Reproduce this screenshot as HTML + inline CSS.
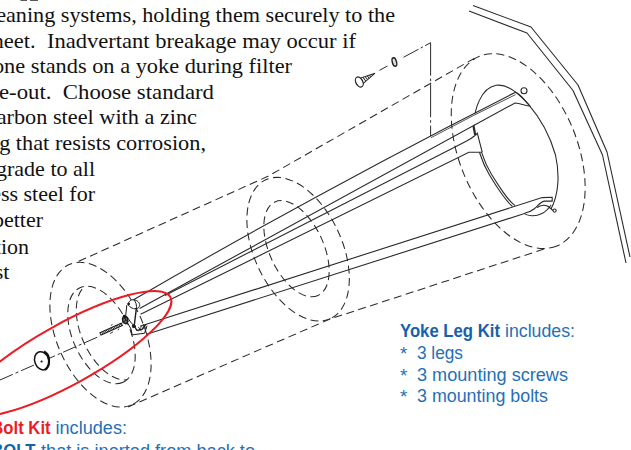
<!DOCTYPE html>
<html><head><meta charset="utf-8">
<style>
html,body{margin:0;padding:0;background:#fff;}
body{width:631px;height:450px;overflow:hidden;}
svg{display:block;}
.serif{font-family:"Liberation Serif",serif;font-size:22px;fill:#111;}
.sans{font-family:"Liberation Sans",sans-serif;font-size:18.8px;fill:#2470b6;}
.b{font-weight:bold;fill:#1561ab;}
.red{font-weight:bold;fill:#ec1c24;}
.ln{fill:none;stroke:#2a2a2a;stroke-width:1.1;}
.dash{fill:none;stroke:#2a2a2a;stroke-width:1.05;stroke-dasharray:8 4.5;}
.cl{fill:none;stroke:#2a2a2a;stroke-width:1;stroke-dasharray:14 3 3 3;}
</style></head><body>
<svg width="631" height="450" viewBox="0 0 631 450">
<rect width="631" height="450" fill="#fff"/>
<path d="M20.5 0 h6.5 v0.7 h-6.5 Z M30 0 h8 v0.7 h-8 Z" fill="#222"/>
<!-- serif text -->
<g class="serif" text-anchor="end" style="white-space:pre">
<text x="395" y="22" textLength="414.9" lengthAdjust="spacingAndGlyphs">cleaning systems, holding them securely to the</text>
<text x="356" y="47.6" textLength="372.2" lengthAdjust="spacingAndGlyphs">sheet.&#160; Inadvertant breakage may occur if</text>
<text x="292" y="73.2" textLength="299.1" lengthAdjust="spacingAndGlyphs">one stands on a yoke during filter</text>
<text x="214" y="98.8" textLength="215" lengthAdjust="spacingAndGlyphs">e-out.&#160; Choose standard</text>
<text x="197" y="124.4" textLength="210.2" lengthAdjust="spacingAndGlyphs">carbon steel with a zinc</text>
<text x="206" y="150" textLength="218" lengthAdjust="spacingAndGlyphs">ng that resists corrosion,</text>
<text x="95" y="175.6">upgrade to all</text>
<text x="95" y="201.2">less steel for</text>
<text x="43" y="226.8">better</text>
<text x="29" y="253.5">ction</text>
<text x="9.5" y="278.6">ust</text>
</g>
<!-- sans text -->
<g class="sans">
<text x="400" y="336.7" class="b" textLength="100" lengthAdjust="spacingAndGlyphs">Yoke Leg Kit</text>
<text x="505" y="336.7" textLength="70" lengthAdjust="spacingAndGlyphs">includes:</text>
<text x="400" y="360">*</text><text x="417" y="359" textLength="46" lengthAdjust="spacingAndGlyphs">3 legs</text>
<text x="400" y="382">*</text><text x="417" y="381" textLength="151" lengthAdjust="spacingAndGlyphs">3 mounting screws</text>
<text x="400" y="403.3">*</text><text x="417" y="402.3" textLength="131" lengthAdjust="spacingAndGlyphs">3 mounting bolts</text>
<text x="-8.7" y="434.4" class="red" textLength="59.3" lengthAdjust="spacingAndGlyphs">Bolt Kit</text>
<text x="55.5" y="434.4" textLength="71.5" lengthAdjust="spacingAndGlyphs">includes:</text>
<text x="-8.7" y="456.6" class="b" textLength="44.2" lengthAdjust="spacingAndGlyphs">BOLT</text>
<text x="41" y="456.6" textLength="214" lengthAdjust="spacingAndGlyphs">that is inerted from back to</text>
</g>
<!-- DIAGRAM -->
<defs>
<clipPath id="clipNearInner"><ellipse cx="101.5" cy="335" rx="52" ry="28.5" transform="rotate(65.5 101.5 335)"/></clipPath>
</defs>
<g id="dashes">
<!-- near end -->
<ellipse class="dash" cx="100.5" cy="334.7" rx="76.8" ry="43.6" transform="rotate(66 100.5 334.7)"/>
<ellipse class="dash" cx="101.5" cy="335" rx="52" ry="28.5" transform="rotate(65.5 101.5 335)"/>
<g clip-path="url(#clipNearInner)"><ellipse class="dash" cx="110" cy="331.2" rx="52" ry="28.5" transform="rotate(65.5 110 331.2)"/></g>
<!-- middle -->
<ellipse class="dash" cx="298.1" cy="249.2" rx="76.6" ry="43.8" transform="rotate(65 298.1 249.2)"/>
<ellipse class="dash" cx="296.5" cy="248.7" rx="51.5" ry="27" transform="rotate(65.2 296.5 248.7)"/>
<!-- far -->
<ellipse class="dash" cx="518.2" cy="151.1" rx="102.4" ry="59" transform="rotate(67.8 518.2 151.1)"/>
<!-- top/bottom lines -->
<path class="dash" d="M78.7 261.3 L268 176.3 L476 57.4"/>
<path class="dash" d="M128 407 L330 319 L545.8 248.5"/>
</g>
<g id="tubesheet">
<path class="ln" d="M473 5.6 L531 27 L578 85 L607 152 L630 257" stroke-linejoin="round"/>
<path class="ln" d="M469 11 L527 33 L573 90.5 L602.5 155 L626 263" stroke-linejoin="round"/>
</g>
<g id="hole">
<!-- hole outline: visible arc (top-left, over top, right side, down to hook) -->
<path class="ln" d="M474.4 125.6 C473.5 110 481 88 496 85.3 C514 82.5 544 115 555.5 155 C560 175 558.5 195 551 209"/>
<!-- inner tube double arcs -->
<path class="ln" d="M479.5 152.5 Q483.5 165 489.3 174.7 T501.3 193.3 T512.5 206.5"/>
<path class="ln" d="M481.6 152.3 Q485.5 164.5 491.3 174 T503.3 192.4 T515 205.6"/>
<circle class="ln" cx="524" cy="90.7" r="3"/>
</g>
<g id="legs">
<!-- upper leg -->
<path d="M466 118.3 L515.6 93 L515 102.2 L466 129.2 Z" fill="#fff" stroke="none"/>
<path class="ln" d="M134 299.5 Q324.8 188.7 515.6 92.2 C520 93.5 524 99.5 530 106 C526 106 521 103.5 515 103 L139.6 308.5"/>
<path class="ln" d="M431 137.7 Q473 115.2 515.6 94.6" style="stroke-width:0.8"/>
<path class="ln" d="M165 295.4 L466.7 141 Q471.5 138.3 474.7 135.7"/>
<path class="ln" d="M140.6 314.3 L468.9 152.2 L482.2 152.2"/>
<path class="ln" d="M473.5 126 L475.3 135.5" style="stroke-width:2.2"/>
<path class="ln" d="M475.3 135.3 L477.3 133.2 L482.2 152.2"/>
<!-- lower leg -->
<path class="ln" d="M140 326.3 L542.2 197.6 L552.2 197.2 L552.2 201.1 L544.4 201.1 C540 202 538 206 534 209 C531 211.5 527 212.5 524.4 213.3"/>
<path class="ln" d="M146.7 334.3 L524.4 213.6 C528 216 535 217 542 213.5 C546 211.5 549 208 551 205"/>
<path class="ln" d="M537 207.5 C541 205 546 204.5 549 207 C551 208.5 552 210 553 210.5"/>
<circle class="ln" cx="554.6" cy="210.6" r="1.6"/>
</g>
<g id="redellipse">
<ellipse cx="67.3" cy="353.8" rx="117.7" ry="30.3" transform="rotate(-28.9 67.3 353.8)" fill="none" stroke="#ec1c24" stroke-width="2"/>
</g>
<g id="hardware">
<path class="cl" d="M0 380 L100 336"/>
<!-- washer -->
<ellipse cx="41.8" cy="360.8" rx="7" ry="9.3" transform="rotate(-20 41.8 360.8)" fill="#fff" stroke="#111" stroke-width="1.5"/>
<path d="M44 351.5 C50 354 51 365 45 370" fill="none" stroke="#111" stroke-width="2.2"/>
<circle cx="41.6" cy="361.5" r="1.1" fill="#111"/>
<!-- bolt -->
<g transform="translate(100.4 333.9) rotate(-24)">
<rect x="0" y="-1.35" width="23.5" height="2.7" fill="#ddd" stroke="#111" stroke-width="0.9"/>
<path d="M1.7 -1.3 L2.5 1.3 M3.4 -1.3 L4.2 1.3 M5.1 -1.3 L5.9 1.3 M6.8 -1.3 L7.6 1.3 M8.5 -1.3 L9.3 1.3 M10.2 -1.3 L11 1.3 M11.9 -1.3 L12.7 1.3 M13.6 -1.3 L14.4 1.3 M15.3 -1.3 L16.1 1.3 M17 -1.3 L17.8 1.3 M18.7 -1.3 L19.5 1.3 M20.4 -1.3 L21.2 1.3 M22.1 -1.3 L22.9 1.3" stroke="#111" stroke-width="0.8" fill="none"/>
<path d="M9 3.6 L12.5 3.2 M13 -3.4 L15 -3.8 M17.5 3.8 L19 2.6" stroke="#222" stroke-width="0.8" fill="none"/>
</g>
<!-- bracket -->
<g fill="none" stroke="#1a1a1a" stroke-width="1" stroke-linejoin="round" stroke-linecap="round">
<path d="M128.3 303.6 C129 300.5 132 299 135 300 C138.5 301 140.5 304 139.3 306.5 C138.5 309 134 309.5 131 307.5 C129 306.3 128 305 128.3 303.6 Z" fill="#fff"/>
<path d="M133.5 299.7 C136 301.5 137 305 136.3 308.8"/>
<circle cx="128.6" cy="304" r="0.9" fill="#1a1a1a"/>
<path d="M126.8 305.5 L125.6 316.5"/>
<path d="M136.3 308.8 L134.2 326" stroke-width="1.4"/>
<!-- nut -->
<path d="M124 315.4 L122.4 318.8 L123 322.4 L126 323.8 L128 321.4 L127.2 317.4 Z" fill="#666" stroke-width="1.3"/>
<path d="M124 315.4 L125.8 320 L123 322.4 M125.8 320 L128 321.4" stroke-width="1"/>
<circle cx="124.6" cy="316.8" r="1.4" fill="#1a1a1a"/>
<path d="M127.4 317.2 L130.5 322 L134.2 326"/>
<path d="M127.4 322.6 L131 329 L132.2 334.9 L144.6 333.2 L146.9 326"/>
<path d="M134.2 326 L136.9 330.4 L142.4 329.2 L144.6 325.4" stroke-width="1.3"/>
<path d="M138.5 327.2 L141.2 331 M141.5 326.6 L138.6 331" stroke-width="0.8"/>
<path d="M143.2 324.2 L146 328.6 M146.2 324.4 L143.4 328.4" stroke-width="0.8"/>
<circle cx="133.8" cy="326.2" r="1.5" fill="#1a1a1a"/>
</g>
<!-- screw + washer at top -->
<path class="cl" d="M379.5 70.3 L387.5 66" style="stroke-dasharray:none"/>
<path class="cl" d="M403.5 57.3 L430.6 42.7" style="stroke-dasharray:17 2.5 2.5 2.5"/>
<path class="cl" d="M430.6 42.7 L430.6 136" style="stroke-dasharray:33 3 2.5 3"/>
<g transform="translate(359.3 82) rotate(-28)">
<path d="M2.5 -3 L18 -0.3 L3 3.2 Z" fill="#fff" stroke="#222" stroke-width="0.9"/>
<path d="M5.5 -2.6 L6.2 2.4 M7.7 -2.2 L8.4 2 M9.9 -1.8 L10.5 1.5 M12.1 -1.4 L12.6 1 M14.3 -1 L14.7 0.5" stroke="#222" stroke-width="0.9"/>
<ellipse cx="0" cy="0" rx="3.4" ry="5.4" fill="#fff" stroke="#222" stroke-width="1.25"/>
</g>
<ellipse cx="394.4" cy="62" rx="2.1" ry="4.4" transform="rotate(-15 394.4 62)" fill="#ddd" stroke="#222" stroke-width="1.4"/>
</g>
</svg>
</body></html>
